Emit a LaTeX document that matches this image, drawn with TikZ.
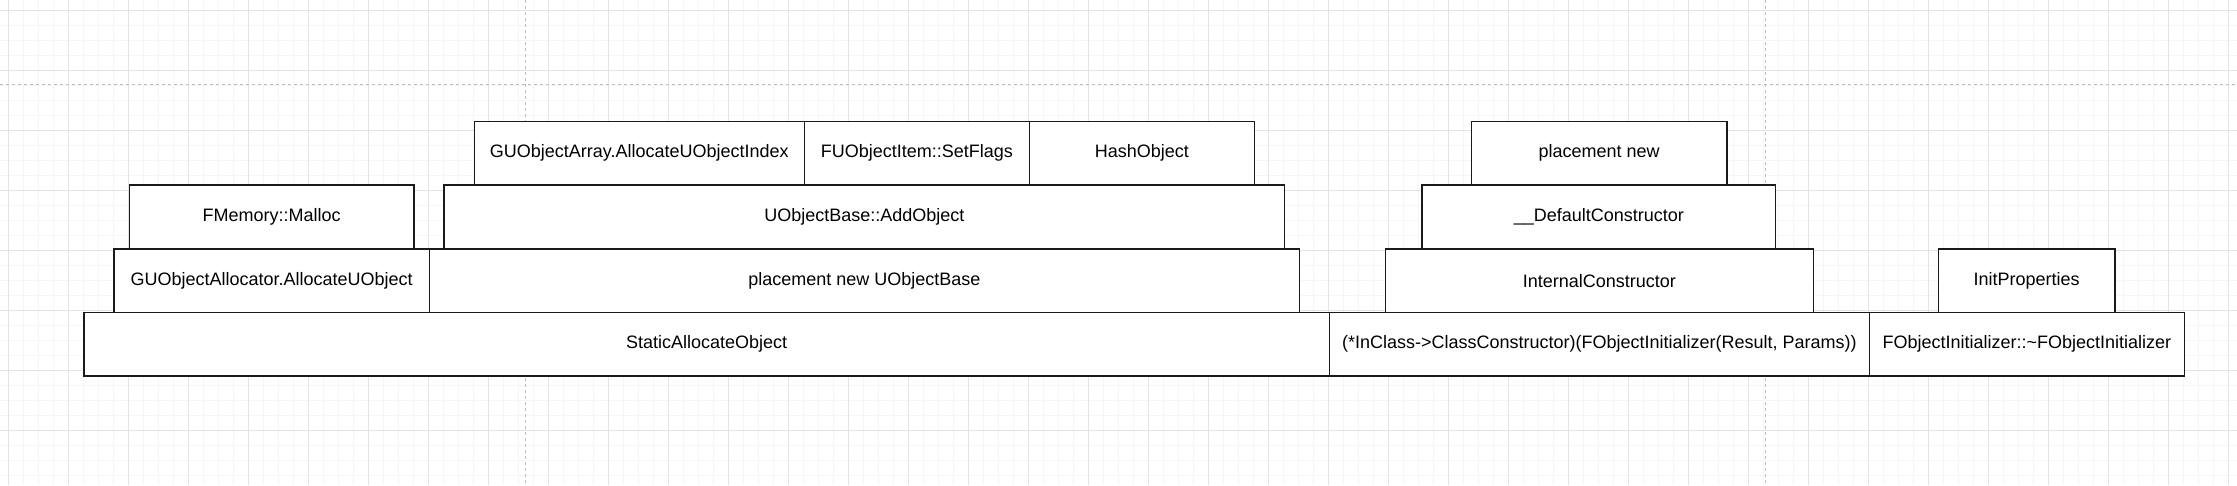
\documentclass[tikz,border=0pt]{standalone}
\usepackage{fontspec}
\setmainfont{Liberation Sans}
\definecolor{gridminor}{HTML}{F6F6F6}
\definecolor{gridmajor}{HTML}{E3E3E3}
\definecolor{pageline}{HTML}{BDBDBD}
\definecolor{boxline}{HTML}{1A1A1A}
\begin{document}
\begin{tikzpicture}[x=1pt,y=-1pt,
  box/.style={draw=boxline, line width=1.5pt, fill=white, inner sep=1pt,
    anchor=north west, minimum height=63.7pt,
    font=\fontsize{18}{21}\selectfont},
  minorline/.style={draw=gridminor, line width=1pt},
  majorline/.style={draw=gridmajor, line width=1pt},
  pagebreak/.style={draw=pageline, line width=1pt, dash pattern=on 3pt off 3pt}]
\useasboundingbox (0,0) rectangle (2237,485);
\fill[white] (0,0) rectangle (2237,485);
% grid
\foreach \k in {0,...,148} {\draw[minorline] ({8.3+15*\k},0) -- ({8.3+15*\k},485);}
\foreach \k in {0,...,31} {\draw[minorline] (0,{10+15*\k}) -- (2237,{10+15*\k});}
\foreach \k in {0,...,37} {\draw[majorline] ({8.3+60*\k},0) -- ({8.3+60*\k},485);}
\foreach \k in {0,...,7} {\draw[majorline] (0,{10+60*\k}) -- (2237,{10+60*\k});}
% page break lines
\draw[pagebreak] (0,84.3) -- (2237,84.3);
\draw[pagebreak] (525.3,0) -- (525.3,485);
\draw[pagebreak] (1765.3,0) -- (1765.3,485);
% row 4
\node[box, minimum width=1245.4pt] (sao) at (83.2,311.7) {StaticAllocateObject};
\node[box, minimum width=540.1pt] (cc) at (1328.6,311.7) {(*InClass->ClassConstructor)(FObjectInitializer(Result, Params))};
\node[box, minimum width=314.8pt] (foi) at (1868.7,311.7) {FObjectInitializer::\textasciitilde FObjectInitializer};
% row 3
\node[box, minimum width=315.3pt] (guoa) at (113.3,248) {GUObjectAllocator.AllocateUObject};
\node[box, minimum width=869.9pt] (pnub) at (428.6,248) {placement new UObjectBase};
\node[box, minimum width=427.9pt] (ic) at (1384.7,248) {InternalConstructor};
\node[box, minimum width=176.7pt] (ip) at (1937.5,248) {InitProperties};
% row 2
\node[box, minimum width=284.7pt] (fm) at (128.6,184.3) {FMemory::Malloc};
\node[box, minimum width=840.3pt] (ao) at (443.4,184.3) {UObjectBase::AddObject};
\node[box, minimum width=353.3pt] (dc) at (1421.4,184.3) {\_\_DefaultConstructor};
% row 1
\node[box, minimum width=330.1pt] (gua) at (473.5,120.7) {GUObjectArray.AllocateUObjectIndex};
\node[box, minimum width=225pt] (si) at (803.6,120.7) {FUObjectItem::SetFlags};
\node[box, minimum width=225pt] (ho) at (1028.6,120.7) {HashObject};
\node[box, minimum width=255.6pt] (pn) at (1470.5,120.7) {placement new};
\end{tikzpicture}
\end{document}
